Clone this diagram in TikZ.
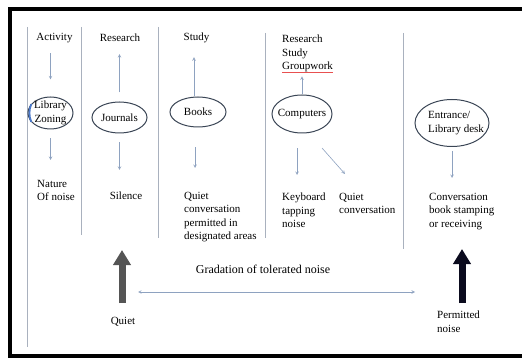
\documentclass[tikz,border=0pt]{standalone}
\usepackage{fontspec}
\setmainfont{Liberation Serif}
\usetikzlibrary{arrows.meta,shapes.geometric}
\definecolor{cline}{HTML}{A9B1BE}
\definecolor{carrow}{HTML}{8EA2C0}
\definecolor{cell}{HTML}{3A4555}
\definecolor{cquiet}{HTML}{555555}
\definecolor{cnoise}{HTML}{0B0B1E}
\definecolor{cspell}{HTML}{E85050}
\definecolor{cmark}{HTML}{4A78C8}

\tikzset{
  oval/.style={draw=cell, line width=1pt, ellipse, inner sep=0pt},
  lbl/.style={inner sep=0pt, align=left, font=\fontsize{11}{13.5}\selectfont},
  flow/.style={carrow, line width=0.6pt, -stealth},
  sep/.style={cline, line width=0.8pt},
  bigup/.style={line width=7pt, -{Triangle[width=17pt,length=15pt]}}
}

\begin{document}
\begin{tikzpicture}[x=1pt,y=-1pt]
        \useasboundingbox (0,0) rectangle (522,358);
        \draw [line width=4pt] (522,9) -- (9.5,9) -- (9.5,356) -- (522,356);
        \foreach \x/\ya/\yb in {27/27/347, 81/27/235, 158/27/238, 265/33/238, 403/33/249}
            \draw [sep] (\x,\ya) -- (\x,\yb);
        % column labels
        \node [lbl] (act) at (54.5,38) {Activity};
        \node [lbl] (res) at (120,38) {Research};
        \node [lbl] (study) at (196.5,38) {Study};
        \node [lbl, anchor=north west] (rsg) at (282,35) {Research\\Study\\Groupwork};
        \draw [cspell, line width=0.6pt] ([yshift=0.5]rsg.south west) -- ([yshift=0.5]rsg.south east);
        % zones
        \node [oval, minimum width=45, minimum height=32] (zone) at (50.5,113) {};
        \node [lbl, align=center] at (zone) {Library\\Zoning};
        \draw [cmark, line width=1.8pt] (zone.155) to[bend right=20] (zone.205);
        \node [oval, minimum width=55, minimum height=31] (journals) at (119.5,117.5) {};
        \node [lbl] at (journals) {Journals};
        \node [oval, minimum width=56, minimum height=30] (books) at (198,112) {};
        \node [lbl] at (books) {Books};
        \node [oval, minimum width=60, minimum height=38] (comps) at (302,114) {};
        \node [lbl] at (comps) {Computers};
        \node [oval, minimum width=74, minimum height=47] (desk) at (452,123) {};
        \node [lbl, xshift=4] at (desk) {Entrance/\\Library desk};
        % nature of noise
        \node [lbl, anchor=north west] (nat) at (37,180) {Nature\\Of noise};
        \node [lbl] (sil) at (126,196) {Silence};
        \node [lbl, anchor=north west] (qc) at (184,192) {Quiet\\conversation\\permitted in\\designated areas};
        \node [lbl, anchor=north west] (kbd) at (282,193) {Keyboard\\tapping\\noise};
        \node [lbl, anchor=north west] (qconv) at (339,193) {Quiet\\conversation};
        \node [lbl, anchor=north west] (conv) at (429,193) {Conversation\\book stamping\\or receiving};
        % arrows
        \draw [flow, shorten <=10, shorten >=17] (zone.north |- act.south) -- (zone.north);
        \draw [flow, shorten <=9, shorten >=20] (zone.south) -- (zone.south |- nat.north);
        \draw [flow, shorten <=9, shorten >=12] (journals.north) -- (journals.north |- res.south);
        \draw [flow, shorten <=9, shorten >=22] (journals.south) -- (journals.south |- sil.north);
        \draw [flow, shorten >=14] ([xshift=-4]books.north) -- ([xshift=-4]books.north |- study.south);
        \draw [flow, shorten <=20, shorten >=24] ([xshift=-3]books.south) -- ([xshift=-3]books.south |- qc.north);
        \draw [flow, shorten >=4] (comps.north) -- (comps.north |- rsg.south);
        \draw [flow, shorten <=15, shorten >=18] ([xshift=-5]comps.south) -- ([xshift=-5]comps.south |- kbd.north);
        \coordinate (dg) at (322,148);
        \draw [flow] (dg) -- ++(23,26);
        \draw [flow, shorten <=4, shorten >=15] (desk.south) -- (desk.south |- conv.north);
        % gradation
        \node [lbl] (quiet) at (123,322) {Quiet};
        \node [lbl, anchor=north west] (perm) at (437,311) {Permitted\\noise};
        \node [lbl, font=\fontsize{12}{14}\selectfont] (grad) at (263,269) {Gradation of tolerated noise};
        \draw [bigup, cquiet] (122,303) -- (122,250);
        \draw [bigup, cnoise] (462,303) -- (462,249);
        \coordinate (gl) at (138,292);
        \coordinate (gr) at (415,292);
        \draw [carrow, line width=0.6pt, stealth-stealth] (gl) -- (gr);
\end{tikzpicture}
\end{document}
